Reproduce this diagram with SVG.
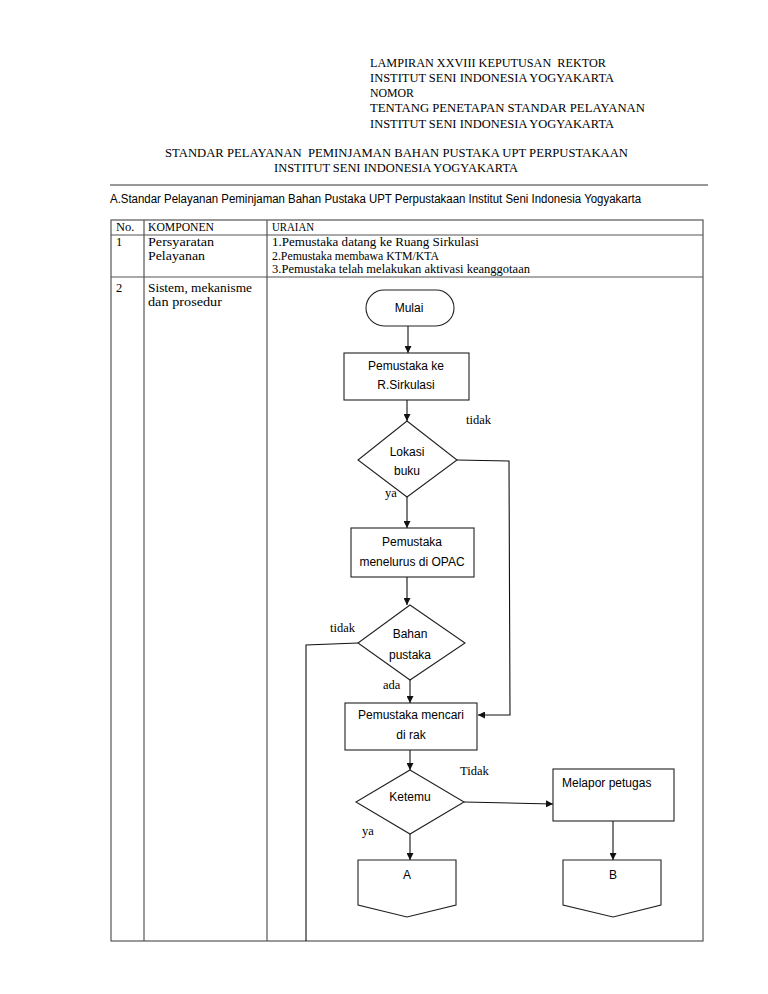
<svg xmlns="http://www.w3.org/2000/svg" width="768" height="994" viewBox="0 0 768 994">
<style>
.serif{font-family:"Liberation Serif","Times New Roman",serif;fill:#000}
.hd{font-size:13px}
.tb{font-size:12.5px}
.sans{font-family:"Liberation Sans",Arial,sans-serif;fill:#000;font-size:12px}
.lbl{font-family:"Liberation Serif","Times New Roman",serif;fill:#000;font-size:12.5px}
.shape{fill:#fff;stroke:#222;stroke-width:1.1}
.grid{stroke:#555;stroke-width:1.2;fill:none}
.conn{stroke:#111;stroke-width:1.1;fill:none}
</style>
<defs>
<marker id="arr" viewBox="0 0 10 10" refX="10" refY="5" markerWidth="7" markerHeight="7" orient="auto" markerUnits="userSpaceOnUse">
<path d="M0,0 L10,5 L0,10 z" fill="#111"/>
</marker>
</defs>
<rect width="768" height="994" fill="#fff"/>

<g id="header">
<text class="serif hd" x="370" y="67" textLength="236" lengthAdjust="spacingAndGlyphs">LAMPIRAN XXVIII KEPUTUSAN&#160; REKTOR</text>
<text class="serif hd" x="370" y="82" textLength="244" lengthAdjust="spacingAndGlyphs">INSTITUT SENI INDONESIA YOGYAKARTA</text>
<text class="serif hd" x="370" y="97" textLength="44" lengthAdjust="spacingAndGlyphs">NOMOR</text>
<text class="serif hd" x="370" y="112" textLength="275" lengthAdjust="spacingAndGlyphs">TENTANG PENETAPAN STANDAR PELAYANAN</text>
<text class="serif hd" x="370" y="128" textLength="244" lengthAdjust="spacingAndGlyphs">INSTITUT SENI INDONESIA YOGYAKARTA</text>
<text class="serif hd" x="165" y="157" textLength="463" lengthAdjust="spacingAndGlyphs">STANDAR PELAYANAN&#160; PEMINJAMAN BAHAN PUSTAKA UPT PERPUSTAKAAN</text>
<text class="serif hd" x="274" y="172" textLength="244" lengthAdjust="spacingAndGlyphs">INSTITUT SENI INDONESIA YOGYAKARTA</text>
<line x1="110" y1="185" x2="708" y2="185" stroke="#333" stroke-width="1.2"/>
<text class="sans" x="110" y="203" font-size="12.5" textLength="531" lengthAdjust="spacingAndGlyphs">A.Standar Pelayanan Peminjaman Bahan Pustaka UPT Perpustakaan Institut Seni Indonesia Yogyakarta</text>
</g>

<g id="table">
<rect class="grid" x="111" y="220" width="592" height="721"/>
<line class="grid" x1="144" y1="220" x2="144" y2="941"/>
<line class="grid" x1="267" y1="220" x2="267" y2="941"/>
<line class="grid" x1="111" y1="235" x2="703" y2="235"/>
<line class="grid" x1="111" y1="277" x2="703" y2="277"/>
<text class="serif tb" x="116" y="231">No.</text>
<text class="serif tb" x="148" y="231" textLength="66" lengthAdjust="spacingAndGlyphs">KOMPONEN</text>
<text class="serif tb" x="272" y="231" textLength="42" lengthAdjust="spacingAndGlyphs">URAIAN</text>
<text class="serif tb" x="116" y="246">1</text>
<text class="serif tb" x="148" y="246" textLength="66" lengthAdjust="spacingAndGlyphs">Persyaratan</text>
<text class="serif tb" x="148" y="259.5" textLength="57" lengthAdjust="spacingAndGlyphs">Pelayanan</text>
<text class="serif tb" x="272" y="246" textLength="207" lengthAdjust="spacingAndGlyphs">1.Pemustaka datang ke Ruang Sirkulasi</text>
<text class="serif tb" x="272" y="259.5" textLength="167" lengthAdjust="spacingAndGlyphs">2.Pemustaka membawa KTM/KTA</text>
<text class="serif tb" x="272" y="273" textLength="258" lengthAdjust="spacingAndGlyphs">3.Pemustaka telah melakukan aktivasi keanggotaan</text>
<text class="serif tb" x="116" y="292">2</text>
<text class="serif tb" x="148" y="292" textLength="104" lengthAdjust="spacingAndGlyphs">Sistem, mekanisme</text>
<text class="serif tb" x="148" y="306" textLength="74" lengthAdjust="spacingAndGlyphs">dan prosedur</text>
</g>

<g id="connectors">
<line class="conn" x1="408" y1="326" x2="408" y2="353" marker-end="url(#arr)"/>
<line class="conn" x1="407" y1="400" x2="407" y2="421" marker-end="url(#arr)"/>
<line class="conn" x1="407" y1="497" x2="407" y2="528" marker-end="url(#arr)"/>
<line class="conn" x1="407" y1="577" x2="407" y2="605" marker-end="url(#arr)"/>
<line class="conn" x1="410" y1="680" x2="410" y2="703" marker-end="url(#arr)"/>
<polyline class="conn" points="457,460 509,461 510,715 478,715" marker-end="url(#arr)"/>
<polyline class="conn" points="358,643 306,645 306,941"/>
<line class="conn" x1="410" y1="750" x2="410" y2="770" marker-end="url(#arr)"/>
<line class="conn" x1="464" y1="802" x2="553" y2="804" marker-end="url(#arr)"/>
<line class="conn" x1="410" y1="834" x2="410" y2="860" marker-end="url(#arr)"/>
<line class="conn" x1="613" y1="821" x2="613" y2="860" marker-end="url(#arr)"/>
<text class="lbl" x="466" y="424">tidak</text>
<text class="lbl" x="385" y="497">ya</text>
<text class="lbl" x="330" y="632">tidak</text>
<text class="lbl" x="383" y="689">ada</text>
<text class="lbl" x="460" y="775">Tidak</text>
<text class="lbl" x="362" y="835">ya</text>
</g>

<g id="mulai">
<rect class="shape" x="366" y="290" width="88" height="36" rx="18"/>
<text class="sans" x="409" y="312" text-anchor="middle" font-size="11">Mulai</text>
</g>

<g id="ke-sirkulasi">
<rect class="shape" x="344" y="353" width="125" height="47"/>
<text class="sans" x="406" y="370" text-anchor="middle">Pemustaka ke</text>
<text class="sans" x="406" y="389" text-anchor="middle">R.Sirkulasi</text>
</g>

<g id="lokasi-buku">
<polygon class="shape" points="407,421 457,460 407,497 358,460"/>
<text class="sans" x="407" y="456" text-anchor="middle">Lokasi</text>
<text class="sans" x="407" y="475" text-anchor="middle">buku</text>
</g>

<g id="opac">
<rect class="shape" x="351" y="528" width="123" height="49"/>
<text class="sans" x="412" y="546" text-anchor="middle">Pemustaka</text>
<text class="sans" x="412" y="566" text-anchor="middle">menelurus di OPAC</text>
</g>

<g id="bahan-pustaka">
<polygon class="shape" points="410,605 465,643 410,680 358,643"/>
<text class="sans" x="410" y="638" text-anchor="middle">Bahan</text>
<text class="sans" x="410" y="659" text-anchor="middle">pustaka</text>
</g>

<g id="mencari-rak">
<rect class="shape" x="345" y="703" width="132" height="47"/>
<text class="sans" x="411" y="719" text-anchor="middle">Pemustaka mencari</text>
<text class="sans" x="411" y="739" text-anchor="middle">di rak</text>
</g>

<g id="ketemu">
<polygon class="shape" points="410,770 464,802 410,834 356,802"/>
<text class="sans" x="410" y="801" text-anchor="middle">Ketemu</text>
</g>

<g id="melapor">
<rect class="shape" x="553" y="769" width="121" height="52"/>
<text class="sans" x="562" y="787">Melapor petugas</text>
</g>

<g id="conn-a">
<polygon class="shape" points="358,860 456,860 456,905 407,917 358,905"/>
<text class="sans" x="407" y="879" text-anchor="middle">A</text>
</g>

<g id="conn-b">
<polygon class="shape" points="563,860 661,860 661,905 613,917 563,905"/>
<text class="sans" x="613" y="879" text-anchor="middle">B</text>
</g>
</svg>
